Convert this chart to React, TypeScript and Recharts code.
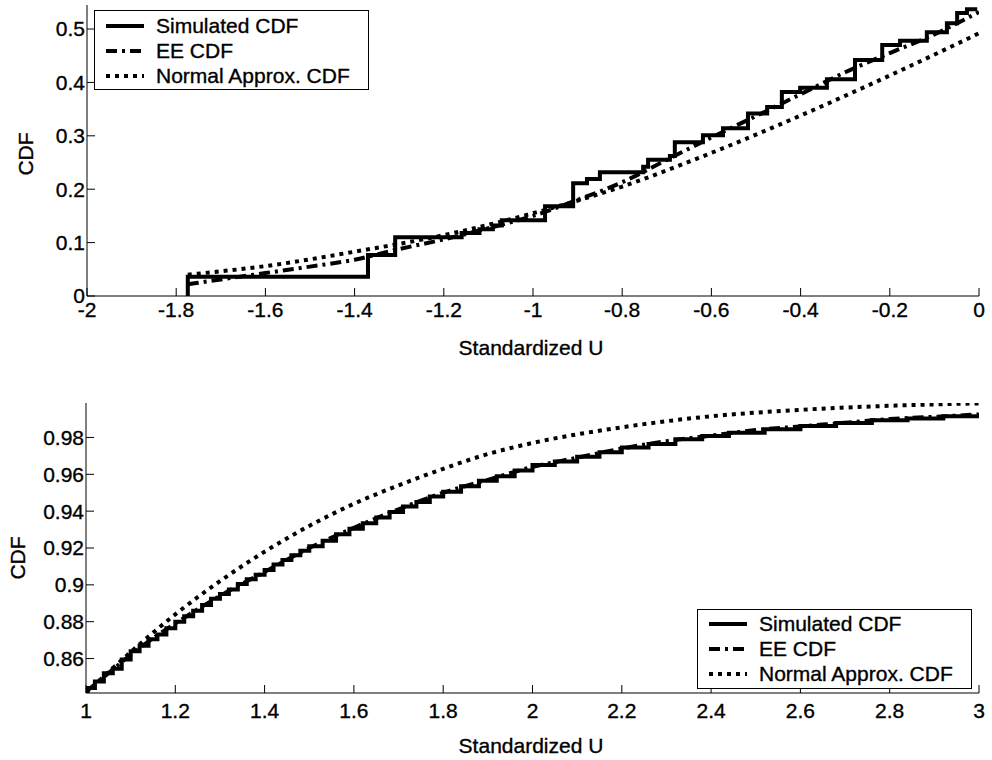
import React from 'react';
import { LineChart, Line, XAxis, YAxis, Legend } from 'recharts';

// ---- upper panel: left tail, standardized U in [-2, 0] ----
const leftSimX = [-1.774, -1.774, -1.370, -1.309, -1.160, -1.120, -1.090, -1.070, -0.973, -0.910, -0.879, -0.850, -0.753, -0.742, -0.693, -0.682, -0.619, -0.574, -0.518, -0.475, -0.442, -0.401, -0.341, -0.278, -0.217, -0.177, -0.117, -0.072, -0.049, -0.027, -0.004];
const leftSimY = [0, 0.036, 0.077, 0.110, 0.118, 0.125, 0.132, 0.142, 0.168, 0.211, 0.219, 0.232, 0.242, 0.255, 0.262, 0.288, 0.301, 0.314, 0.342, 0.354, 0.382, 0.390, 0.406, 0.442, 0.470, 0.478, 0.494, 0.511, 0.530, 0.537, 0.537];

const leftEeX = [-1.774, -1.7, -1.6, -1.5, -1.4, -1.3, -1.2, -1.1, -1.0, -0.9, -0.8, -0.7, -0.6, -0.5, -0.4, -0.3, -0.2, -0.1, 0];
const leftEeY = [0.022, 0.031, 0.043, 0.055, 0.068, 0.088, 0.106, 0.127, 0.150, 0.180, 0.213, 0.255, 0.297, 0.337, 0.378, 0.419, 0.455, 0.490, 0.532];

const leftNormX = [-1.774, -1.6, -1.4, -1.2, -1.0, -0.8, -0.6, -0.4, -0.2, 0];
const leftNormY = [0.040, 0.056, 0.083, 0.114, 0.155, 0.205, 0.268, 0.338, 0.413, 0.492];

const leftXTicks = [-2, -1.8, -1.6, -1.4, -1.2, -1, -0.8, -0.6, -0.4, -0.2, 0];
const leftYTicks = [0, 0.1, 0.2, 0.3, 0.4, 0.5];

// ---- lower panel: right tail, standardized U in [1, 3] ----
const rightSimX = [1.0, 1.0, 1.02, 1.04, 1.06, 1.08, 1.10, 1.12, 1.14, 1.16, 1.18, 1.20, 1.22, 1.24, 1.26, 1.28, 1.30, 1.32, 1.34, 1.36, 1.38, 1.40, 1.42, 1.44, 1.46, 1.48, 1.50, 1.53, 1.56, 1.59, 1.62, 1.65, 1.68, 1.71, 1.74, 1.77, 1.80, 1.84, 1.88, 1.92, 1.96, 2.00, 2.05, 2.10, 2.15, 2.20, 2.26, 2.32, 2.38, 2.44, 2.52, 2.60, 2.68, 2.76, 2.84, 2.92, 3.00];
const rightSimY = [0.8413, 0.8440, 0.8475, 0.8520, 0.8545, 0.8595, 0.8640, 0.8670, 0.8705, 0.8730, 0.8765, 0.8800, 0.8830, 0.8860, 0.8890, 0.8925, 0.8950, 0.8975, 0.9005, 0.9030, 0.9055, 0.9080, 0.9110, 0.9135, 0.9160, 0.9185, 0.9210, 0.9240, 0.9275, 0.9305, 0.9335, 0.9365, 0.9395, 0.9425, 0.9450, 0.9480, 0.9505, 0.9535, 0.9565, 0.9590, 0.9620, 0.9650, 0.9670, 0.9695, 0.9720, 0.9745, 0.9765, 0.9790, 0.9808, 0.9825, 0.9845, 0.9862, 0.9878, 0.9893, 0.9903, 0.9915, 0.9925];

const rightEeX = [1.0, 1.05, 1.1, 1.15, 1.2, 1.3, 1.4, 1.5, 1.6, 1.7, 1.8, 1.9, 2.0, 2.1, 2.2, 2.3, 2.4, 2.5, 2.6, 2.7, 2.8, 2.9, 3.0];
const rightEeY = [0.842, 0.852, 0.862, 0.871, 0.879, 0.894, 0.907, 0.920, 0.931, 0.941, 0.950, 0.957, 0.964, 0.969, 0.974, 0.978, 0.981, 0.984, 0.986, 0.988, 0.990, 0.9912, 0.9925];

const rightNormX = [1.0, 1.1, 1.2, 1.3, 1.4, 1.5, 1.6, 1.7, 1.8, 1.9, 2.0, 2.2, 2.4, 2.6, 2.8, 3.0];
const rightNormY = [0.8413, 0.8635, 0.884, 0.902, 0.918, 0.932, 0.944, 0.954, 0.963, 0.971, 0.977, 0.9855, 0.9915, 0.995, 0.9972, 0.9985];

const rightXTicks = [1, 1.2, 1.4, 1.6, 1.8, 2, 2.2, 2.4, 2.6, 2.8, 3];
const rightYTicks = [0.86, 0.88, 0.9, 0.92, 0.94, 0.96, 0.98];

const seriesNames = ['Simulated CDF', 'EE CDF', 'Normal Approx. CDF'];

const pts = (xs: number[], ys: number[]) => xs.map((x, i) => ({ x, y: ys[i] }));

const FONT = '"Liberation Sans", Arial, Helvetica, sans-serif';
const INK = '#000';

// line looks shared by plot and legend
const styles = [
  { strokeWidth: 4, strokeDasharray: undefined as string | undefined },
  { strokeWidth: 4, strokeDasharray: '11 5 3 5' },
  { strokeWidth: 4, strokeDasharray: '4 5' },
];

const LegendBox = ({ rowTop }: { rowTop: number }) => (
  <div
    style={{
      width: 273,
      height: 78,
      border: `1px solid ${INK}`,
      background: '#fff',
      position: 'relative',
      fontFamily: FONT,
      fontSize: 21,
      color: INK,
      WebkitTextStroke: '0.35px #000',
    }}
  >
    {seriesNames.map((name, i) => (
      <div key={name} style={{ position: 'absolute', left: 0, top: rowTop + i * 25 - 12, height: 24, display: 'flex', alignItems: 'center' }}>
        <svg width={50} height={10} style={{ marginLeft: 11 }}>
          <line x1={0} y1={5} x2={38} y2={5} stroke={INK} strokeWidth={styles[i].strokeWidth} strokeDasharray={styles[i].strokeDasharray} />
        </svg>
        <span style={{ whiteSpace: 'nowrap', lineHeight: '24px' }}>{name}</span>
      </div>
    ))}
  </div>
);

// axis titles; Recharts injects x/y into label elements, so own names are used
const XTitle = ({ tx, ty }: { tx: number; ty: number }) => (
  <text x={tx} y={ty} textAnchor="middle" dominantBaseline="central" fontSize={21} fill={INK} stroke={INK} strokeWidth={0.35} fontFamily={FONT}>
    Standardized U
  </text>
);

const YTitle = ({ tx, ty }: { tx: number; ty: number }) => (
  <text x={tx} y={ty} textAnchor="middle" dominantBaseline="central" fontSize={21} fill={INK} stroke={INK} strokeWidth={0.35} fontFamily={FONT} transform={`rotate(-90 ${tx} ${ty})`}>
    CDF
  </text>
);

interface PanelProps {
  sim: { x: number; y: number }[];
  ee: { x: number; y: number }[];
  norm: { x: number; y: number }[];
  xDomain: [number, number];
  yDomain: [number, number];
  xTicks: number[];
  yTicks: number[];
  margin: { top: number; right: number; bottom: number; left: number };
  xTickMargin: number;
  xTitleY: number;
  yTitle: { x: number; y: number };
  legendPos: { left: number; top: number };
  legendRowTop: number;
}

const axisLine = { stroke: INK, strokeWidth: 1 };
const tickFont = { fill: INK, fontSize: 21, fontFamily: FONT, stroke: INK, strokeWidth: 0.35 };

const Panel = (p: PanelProps) => (
  <LineChart width={992} height={380} margin={p.margin}>
    <XAxis
      xAxisId="b"
      type="number"
      dataKey="x"
      domain={p.xDomain}
      ticks={p.xTicks}
      interval={0}
      allowDataOverflow
      height={30}
      tickSize={-8}
      tickMargin={p.xTickMargin}
      axisLine={axisLine}
      tickLine={axisLine}
      tick={tickFont}
      label={<XTitle tx={531} ty={p.xTitleY} />}
    />
    <XAxis
      xAxisId="t"
      orientation="top"
      type="number"
      dataKey="x"
      domain={p.xDomain}
      ticks={p.xTicks}
      interval={0}
      allowDataOverflow
      height={0}
      tickSize={-8}
      axisLine={axisLine}
      tickLine={axisLine}
      tick={false}
    />
    <YAxis
      yAxisId="l"
      type="number"
      domain={p.yDomain}
      ticks={p.yTicks}
      interval={0}
      allowDataOverflow
      width={60}
      tickSize={-8}
      tickMargin={10}
      axisLine={axisLine}
      tickLine={axisLine}
      tick={tickFont}
      label={<YTitle tx={p.yTitle.x} ty={p.yTitle.y} />}
    />
    <YAxis
      yAxisId="r"
      orientation="right"
      type="number"
      domain={p.yDomain}
      ticks={p.yTicks}
      interval={0}
      allowDataOverflow
      width={0}
      tickSize={-8}
      axisLine={axisLine}
      tickLine={axisLine}
      tick={false}
    />
    <Line data={p.norm} dataKey="y" xAxisId="b" yAxisId="l" type="monotone" stroke={INK} strokeWidth={styles[2].strokeWidth} strokeDasharray={styles[2].strokeDasharray} dot={false} isAnimationActive={false} />
    <Line data={p.ee} dataKey="y" xAxisId="b" yAxisId="l" type="monotone" stroke={INK} strokeWidth={styles[1].strokeWidth} strokeDasharray={styles[1].strokeDasharray} dot={false} isAnimationActive={false} />
    <Line data={p.sim} dataKey="y" xAxisId="b" yAxisId="l" type="stepAfter" stroke={INK} strokeWidth={styles[0].strokeWidth} strokeLinejoin="miter" dot={false} isAnimationActive={false} />
    <Legend
      layout="horizontal"
      verticalAlign="middle"
      align="center"
      wrapperStyle={{ left: p.legendPos.left, top: p.legendPos.top, width: 'auto' }}
      content={() => <LegendBox rowTop={p.legendRowTop} />}
    />
  </LineChart>
);

export default function App() {
  return (
    <div style={{ position: 'absolute', left: 0, top: 0, width: 992, height: 760, background: '#fff', fontFamily: FONT }}>
      <Panel
        sim={pts(leftSimX, leftSimY)}
        ee={pts(leftEeX, leftEeY)}
        norm={pts(leftNormX, leftNormY)}
        xDomain={[-2, 0]}
        yDomain={[0, 0.545]}
        xTicks={leftXTicks}
        yTicks={leftYTicks}
        margin={{ top: 5, right: 13, bottom: 54, left: 27 }}
        xTickMargin={14}
        xTitleY={347}
        yTitle={{ x: 25, y: 154 }}
        legendPos={{ left: 94, top: 10 }}
        legendRowTop={15}
      />
      <Panel
        sim={pts(rightSimX, rightSimY)}
        ee={pts(rightEeX, rightEeY)}
        norm={pts(rightNormX, rightNormY)}
        xDomain={[1, 3]}
        yDomain={[0.8413, 0.9987]}
        xTicks={rightXTicks}
        yTicks={rightYTicks}
        margin={{ top: 23, right: 13, bottom: 37, left: 26 }}
        xTickMargin={18}
        xTitleY={365}
        yTitle={{ x: 17, y: 178 }}
        legendPos={{ left: 697, top: 229 }}
        legendRowTop={14}
      />
    </div>
  );
}
